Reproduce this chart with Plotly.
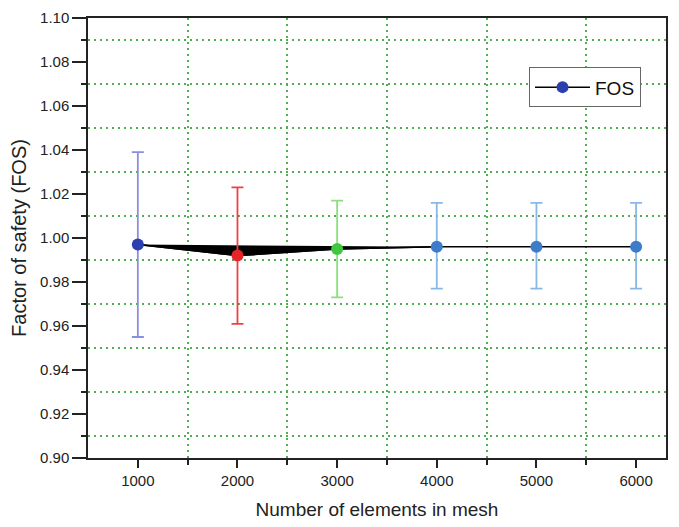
import plotly.graph_objects as go

mesh = [1000, 2000, 3000, 4000, 5000, 6000]
fos = [0.997, 0.992, 0.995, 0.996, 0.996, 0.996]
err_up = [1.039, 1.023, 1.017, 1.016, 1.016, 1.016]
err_low = [0.955, 0.961, 0.973, 0.977, 0.977, 0.977]

point_colors = ["#2b3fae", "#e8242a", "#3ec83e", "#3d7cc8", "#3d7cc8", "#3d7cc8"]
bar_colors = ["#8c8ce0", "#f04040", "#8ae07a", "#8ab8e6", "#8ab8e6", "#8ab8e6"]

fig = go.Figure()

# black wedge between first and fourth points
fig.add_trace(go.Scatter(
    x=mesh[:4], y=fos[:4], mode="lines", fill="toself", fillcolor="black",
    line=dict(color="black", width=1.5), showlegend=False, hoverinfo="skip"))

# error bars per point
for xv, yv, up, lo, c in zip(mesh, fos, err_up, err_low, bar_colors):
    fig.add_trace(go.Scatter(
        x=[xv], y=[yv], mode="markers", marker=dict(size=1, opacity=0),
        error_y=dict(type="data", symmetric=False, array=[up - yv], arrayminus=[yv - lo],
                     color=c, thickness=1.8, width=6),
        showlegend=False, hoverinfo="skip"))

fig.add_trace(go.Scatter(
    x=mesh, y=fos, mode="lines+markers", name="FOS",
    line=dict(color="black", width=1.5),
    marker=dict(size=12, color=point_colors)))

grid_green = "rgb(80,175,80)"
fig.update_layout(
    width=671, height=519,
    margin=dict(l=80, r=13, t=10, b=69),
    paper_bgcolor="white", plot_bgcolor="white",
    font=dict(family="Liberation Sans, Arial", color="#222"),
    showlegend=True,
    legend=dict(x=0.763, y=0.888, xanchor="left", yanchor="top",
                bordercolor="#666", borderwidth=1, bgcolor="white",
                font=dict(size=19, color="#111"), itemwidth=55,
                tracegroupgap=0),
    xaxis=dict(
        range=[500, 6300], tickmode="array", tickvals=mesh,
        ticktext=[str(v) for v in mesh], automargin=False,
        showgrid=False, zeroline=False,
        showline=True, linecolor="#222", linewidth=1.5, mirror=True,
        ticks="outside", ticklen=8, tickwidth=1.5, tickcolor="#222",
        tickfont=dict(size=15, color="#222"),
        title=dict(text="Number of elements in mesh", font=dict(size=19, color="#222")),
        minor=dict(tickvals=[1500, 2500, 3500, 4500, 5500], ticks="outside", ticklen=5,
                   tickcolor="#222", tickwidth=1.5, showgrid=True, gridcolor=grid_green,
                   griddash="2px,4px", gridwidth=1.5),
    ),
    yaxis=dict(
        range=[0.90, 1.10], tickmode="array",
        tickvals=[0.90, 0.92, 0.94, 0.96, 0.98, 1.00, 1.02, 1.04, 1.06, 1.08, 1.10],
        tickformat=".2f", automargin=False,
        showgrid=False, zeroline=False,
        showline=True, linecolor="#222", linewidth=1.5, mirror=True,
        ticks="outside", ticklen=14, tickwidth=1.5, tickcolor="#222",
        tickfont=dict(size=15, color="#222"),
        title=dict(text="Factor of safety (FOS)", font=dict(size=20, color="#222")),
        minor=dict(tickvals=[0.91, 0.93, 0.95, 0.97, 0.99, 1.01, 1.03, 1.05, 1.07, 1.09],
                   ticks="outside", ticklen=5, tickcolor="#222", tickwidth=1.5,
                   showgrid=True, gridcolor=grid_green, griddash="2px,4px", gridwidth=1.5),
    ),
)

fig.write_html("out.html")
